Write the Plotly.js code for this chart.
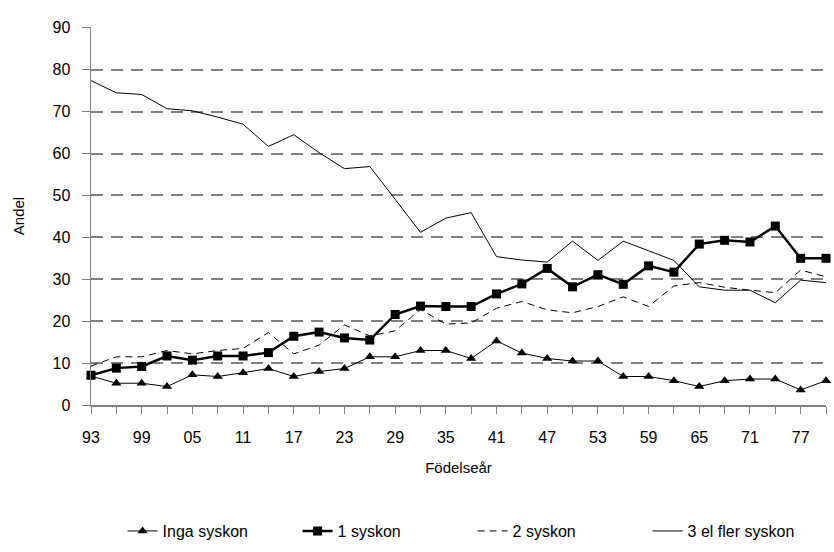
<!DOCTYPE html>
<html>
<head>
<meta charset="utf-8">
<script src="https://cdn.plot.ly/plotly-3.0.1.min.js"></script>
<style>html,body{margin:0;padding:0;background:#fff}#chart{width:834px;height:552px}</style>
</head>
<body>
<div id="chart"></div>
<script>
// Birth years (födelseår), every third year 1893-1980
const years = [1893,1896,1899,1902,1905,1908,1911,1914,1917,1920,1923,1926,1929,1932,1935,1938,1941,1944,1947,1950,1953,1956,1959,1962,1965,1968,1971,1974,1977,1980];
const tickYears = [1893,1899,1905,1911,1917,1923,1929,1935,1941,1947,1953,1959,1965,1971,1977];
const tickLabels = ['93','99','05','11','17','23','29','35','41','47','53','59','65','71','77'];

const ingaSyskon = [6.9,5.2,5.2,4.4,7.2,6.8,7.7,8.7,6.8,8.0,8.7,11.5,11.5,13.0,13.0,11.1,15.3,12.4,11.1,10.5,10.5,6.8,6.8,5.8,4.4,5.8,6.2,6.2,3.6,5.8];
const ettSyskon = [7.1,8.8,9.2,11.7,10.7,11.7,11.7,12.5,16.4,17.4,16.0,15.5,21.6,23.6,23.5,23.5,26.5,28.9,32.6,28.2,31.1,28.8,33.2,31.7,38.4,39.3,38.9,42.7,35.0,35.0];
const tvaSyskon = [9.3,11.5,11.5,13.0,12.2,13.0,13.5,17.3,12.2,14.3,19.1,16.5,17.7,22.8,19.3,19.6,23.1,24.7,22.7,22.0,23.5,25.8,23.5,28.4,29.2,28.1,27.4,26.8,32.2,30.6];
const treFlerSyskon = [77.4,74.5,74.1,70.7,70.2,68.7,67.0,61.7,64.5,60.2,56.4,56.9,49.1,41.2,44.6,45.9,35.4,34.6,34.1,39.1,34.5,39.1,36.8,34.5,28.2,27.4,27.4,24.4,29.8,29.2];

const seriesNames = ['Inga syskon','1 syskon','2 syskon','3 el fler syskon'];
const yTicks = [0,10,20,30,40,50,60,70,80,90];

const font = "Liberation Sans, Arial, sans-serif";

const traces = [
  {x: years, y: ingaSyskon, name: seriesNames[0], type: 'scatter', mode: 'lines+markers',
   line: {color: '#000', width: 1}, marker: {symbol: 'triangle-up', size: 9, color: '#000'}, cliponaxis: false},
  {x: years, y: ettSyskon, name: seriesNames[1], type: 'scatter', mode: 'lines+markers',
   line: {color: '#000', width: 2.5}, marker: {symbol: 'square', size: 9, color: '#000'}, cliponaxis: false},
  {x: years, y: tvaSyskon, name: seriesNames[2], type: 'scatter', mode: 'lines',
   line: {color: '#000', width: 1, dash: '7px,5px'}},
  {x: years, y: treFlerSyskon, name: seriesNames[3], type: 'scatter', mode: 'lines',
   line: {color: '#000', width: 1}}
];

const layout = {
  width: 834, height: 552,
  margin: {l: 91, r: 8, t: 27, b: 147},
  paper_bgcolor: '#fff', plot_bgcolor: '#fff',
  font: {family: font, size: 15, color: '#000'},
  showlegend: true,
  legend: {orientation: 'h', xref: 'container', yref: 'container', x: 0.147, xanchor: 'left', y: 0.038, yanchor: 'middle',
           font: {family: font, size: 16, color: '#000'}, traceorder: 'normal',
           entrywidth: 130, entrywidthmode: 'pixels'},
  xaxis: {
    type: 'linear', range: [1893, 1980],
    tickmode: 'array', tickvals: tickYears, ticktext: tickLabels,
    ticks: 'outside', ticklen: 7, tickcolor: '#808080', tickwidth: 1,
    minor: {tickmode: 'array', tickvals: years, ticks: 'outside', ticklen: 7, tickcolor: '#808080', tickwidth: 1, showgrid: false},
    showline: true, linecolor: '#808080', linewidth: 1.5,
    showgrid: false, zeroline: false,
    ticklabelstandoff: 10,
    tickfont: {family: font, size: 16, color: '#000'},
    title: {text: 'Födelseår', font: {family: font, size: 15, color: '#000'}, standoff: 18}
  },
  yaxis: {
    range: [0, 90.2], tickmode: 'array', tickvals: yTicks,
    ticks: 'outside', ticklen: 8, tickcolor: '#808080', tickwidth: 1,
    showline: true, linecolor: '#808080', linewidth: 1.5,
    showgrid: true, gridcolor: '#808080', gridwidth: 2, griddash: '12px,8px',
    zeroline: false,
    ticklabelstandoff: 8,
    tickfont: {family: font, size: 16, color: '#000'},
    title: {text: 'Andel', font: {family: font, size: 15, color: '#000'}, standoff: 24}
  }
};

Plotly.newPlot('chart', traces, layout, {displayModeBar: false, staticPlot: true});
</script>
</body>
</html>
